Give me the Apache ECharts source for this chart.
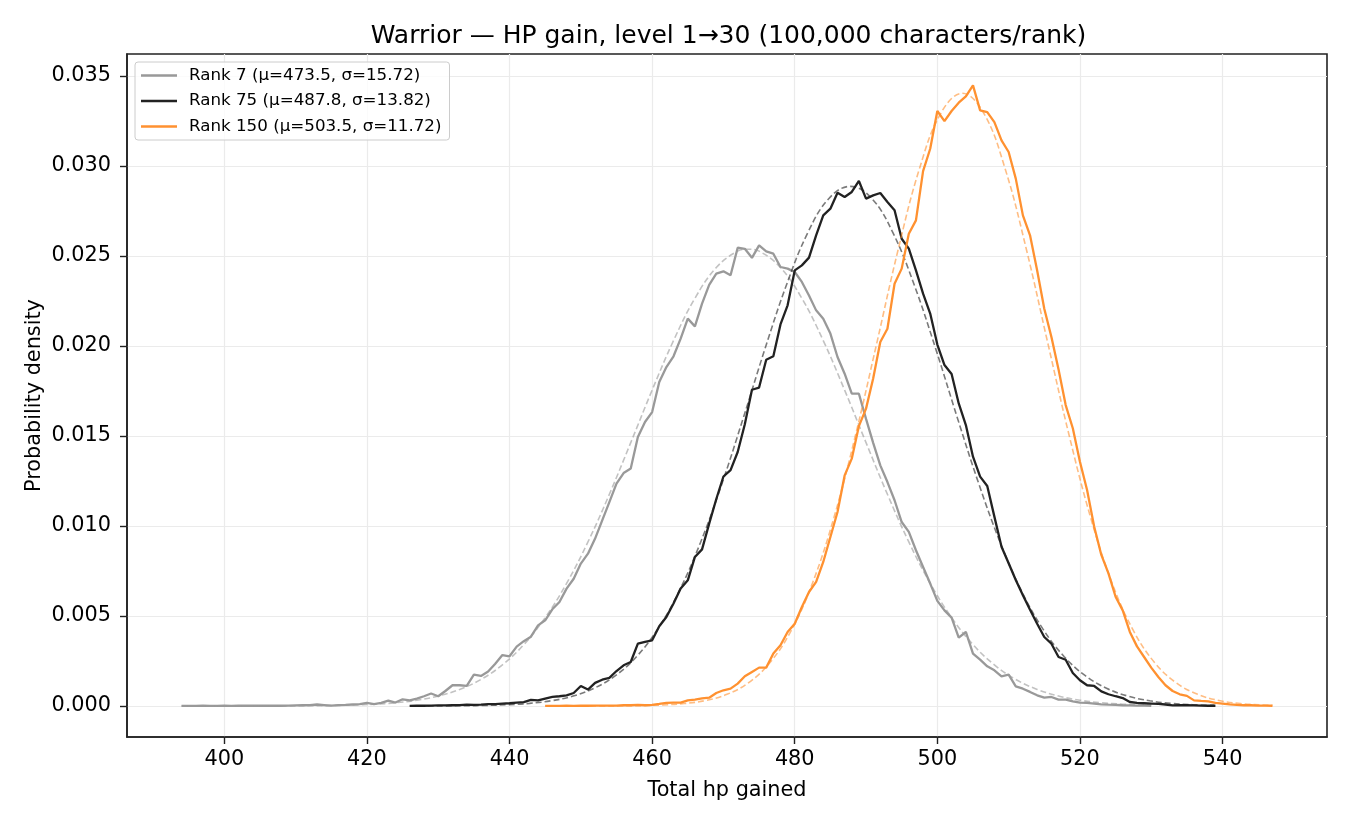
<!DOCTYPE html>
<html>
<head>
<meta charset="utf-8">
<script src="https://cdn.jsdelivr.net/npm/echarts@6/dist/echarts.min.js"></script>
<style>
  html, body { margin: 0; padding: 0; background: #fff; }
  #chart { width: 1350px; height: 825px; }
</style>
</head>
<body>
<div id="chart"></div>
<script>
// Densités empiriques, un point par valeur entière de PV
var rank7Start = 394;
var rank7Density = [
	0, 0, 0, 0.00001, 0, 0, 0.00001, 0, 0.00001, 0.00001,
	0.00002, 0.00001, 0.00001, 0.00002, 0.00001, 0.00002, 0.00003, 0.00004, 0.00005, 0.00008,
	0.00005, 0.00002, 0.00005, 0.00006, 0.00008, 0.0001, 0.00017, 0.0001, 0.00017, 0.0003,
	0.00019, 0.00037, 0.00031, 0.00041, 0.00054, 0.00069, 0.00054, 0.00083, 0.00115, 0.00115,
	0.00111, 0.00174, 0.00167, 0.00191, 0.00235, 0.00283, 0.00276, 0.0033, 0.0036, 0.00385,
	0.00448, 0.00476, 0.00537, 0.00578, 0.00652, 0.00707, 0.00791, 0.00846, 0.0093, 0.01031,
	0.01133, 0.01235, 0.01294, 0.01319, 0.01494, 0.01578, 0.01633, 0.018, 0.01883, 0.01943,
	0.02041, 0.02152, 0.02109, 0.02235, 0.0234, 0.02402, 0.02415, 0.02393, 0.02546, 0.0254,
	0.0249, 0.02559, 0.02526, 0.02513, 0.02439, 0.0243, 0.02411, 0.02356, 0.02281, 0.02198,
	0.02152, 0.02069, 0.01939, 0.01846, 0.01735, 0.01735, 0.01595, 0.01462, 0.01337, 0.01244,
	0.01143, 0.01022, 0.00967, 0.00865, 0.00772, 0.0068, 0.00584, 0.00531, 0.00491, 0.0038,
	0.00411, 0.00291, 0.00257, 0.0022, 0.00198, 0.00165, 0.00174, 0.00109, 0.00096, 0.00078,
	0.00059, 0.00046, 0.0005, 0.00035, 0.00035, 0.00026, 0.00019, 0.00017, 0.00013, 0.00009,
	0.00007, 0.00006, 0.00004, 0.00003, 0.00002, 0.00002, 0.00001
];

var rank75Start = 426;
var rank75Density = [
	0, 0.00001, 0.00001, 0.00002, 0.00003, 0.00003, 0.00004, 0.00005, 0.00007, 0.00006,
	0.00007, 0.0001, 0.0001, 0.00013, 0.00015, 0.00018, 0.00021, 0.00034, 0.00031, 0.00041,
	0.0005, 0.00054, 0.00059, 0.00072, 0.00111, 0.00091, 0.00128, 0.00146, 0.00156, 0.00194,
	0.00226, 0.00244, 0.00346, 0.00356, 0.00365, 0.00443, 0.00494, 0.00569, 0.00652, 0.00698,
	0.00828, 0.0087, 0.01013, 0.0115, 0.01275, 0.0131, 0.01411, 0.01565, 0.01757, 0.01769,
	0.01924, 0.01943, 0.0212, 0.02226, 0.0242, 0.02448, 0.02491, 0.02615, 0.02726, 0.02763,
	0.02852, 0.02828, 0.02856, 0.02917, 0.02819, 0.02837, 0.0285, 0.028, 0.02754, 0.02596,
	0.02541, 0.0242, 0.02291, 0.0218, 0.02008, 0.01894, 0.01844, 0.01681, 0.01561, 0.01385,
	0.01274, 0.01222, 0.01052, 0.00885, 0.00793, 0.007, 0.00615, 0.00535, 0.00457, 0.00383,
	0.00346, 0.00272, 0.00257, 0.00183, 0.00143, 0.00115, 0.00111, 0.00081, 0.00065, 0.00054,
	0.00044, 0.00022, 0.00017, 0.00015, 0.00013, 0.00011, 0.00008, 0.00003, 0.00005, 0.00004,
	0.00003, 0.00002, 0.00001, 0.00001
];

var rank150Start = 445;
var rank150Density = [
	0, 0, 0, 0.00001, 0, 0.00001, 0.00001, 0.00002, 0.00002, 0.00002,
	0.00002, 0.00004, 0.00004, 0.00006, 0.00004, 0.00006, 0.00011, 0.00017, 0.00019, 0.00019,
	0.00031, 0.00035, 0.00042, 0.00046, 0.00072, 0.00087, 0.00096, 0.00124, 0.00165, 0.00189,
	0.00213, 0.00213, 0.00291, 0.00337, 0.00411, 0.00457, 0.0055, 0.00633, 0.00689, 0.008,
	0.00939, 0.01078, 0.01281, 0.01374, 0.01555, 0.01652, 0.01819, 0.02022, 0.02096, 0.02346,
	0.0243, 0.02624, 0.02698, 0.02972, 0.03096, 0.03306, 0.0325, 0.03306, 0.03352, 0.03387,
	0.03448, 0.03309, 0.033, 0.03244, 0.03143, 0.03078, 0.0293, 0.02726, 0.02615, 0.0242,
	0.02207, 0.0205, 0.0187, 0.01672, 0.01543, 0.01357, 0.012, 0.00996, 0.00839, 0.00737,
	0.00607, 0.00531, 0.00411, 0.00331, 0.00272, 0.00213, 0.00161, 0.00115, 0.00083, 0.00065,
	0.00056, 0.00031, 0.00028, 0.00026, 0.00017, 0.00013, 0.00009, 0.00006, 0.00004, 0.00004,
	0.00002, 0.00002, 0.00001
];

// Courbes normales ajustées (pointillés)
var fitX7 = [394, 397, 400, 403, 406, 409, 412, 415, 418, 421, 424, 427, 430, 433, 436, 439, 442, 445, 448, 451,
	454, 457, 460, 463, 466, 469, 472, 473.5, 475, 478, 481, 484, 487, 490, 493, 496, 499, 502, 505, 508,
	511, 514, 517, 520, 523, 526, 529, 530];
var fitY7 = [0, 0, 0, 0.000001, 0.0000025, 0.0000056, 0.000012, 0.000025, 0.00005, 0.000096, 0.000178, 0.00032,
	0.000552, 0.000919, 0.001475, 0.002282, 0.003408, 0.004909, 0.006807, 0.009114, 0.01176, 0.01463, 0.01755,
	0.0203, 0.02265, 0.02436, 0.02527, 0.02538, 0.02527, 0.02436, 0.02265, 0.0203, 0.01755, 0.01463, 0.01176,
	0.009114, 0.006807, 0.004909, 0.003408, 0.002282, 0.001475, 0.000919, 0.000552, 0.00032, 0.000178,
	0.000096, 0.00005, 0.00004];

var fitX75 = [426, 427.8, 430.8, 433.8, 436.8, 439.8, 442.8, 445.8, 448.8, 451.8, 454.8, 457.8, 460.8, 463.8,
	466.8, 469.8, 472.8, 475.8, 478.8, 481.8, 484.8, 487.8, 490.8, 493.8, 496.8, 499.8, 502.8, 505.8, 508.8,
	511.8, 514.8, 517.8, 520.8, 523.8, 526.8, 529.8, 532.8, 535.8, 538.8];
var fitY75 = [0.0000013, 0.0000023, 0.0000058, 0.0000139, 0.0000319, 0.0000694, 0.000144, 0.000285, 0.000539,
	0.000971, 0.001669, 0.002737, 0.00428, 0.00639, 0.0091, 0.01236, 0.01602, 0.01981, 0.02335, 0.02627, 0.0282,
	0.02887, 0.0282, 0.02627, 0.02335, 0.01981, 0.01602, 0.01236, 0.0091, 0.00639, 0.00428, 0.002737, 0.001669,
	0.000971, 0.000539, 0.000285, 0.000144, 0.0000694, 0.0000319];

var fitX150 = [445, 446.5, 449.5, 452.5, 455.5, 458.5, 461.5, 464.5, 467.5, 470.5, 473.5, 476.5, 479.5, 482.5,
	485.5, 488.5, 491.5, 494.5, 497.5, 500.5, 503.5, 506.5, 509.5, 512.5, 515.5, 518.5, 521.5, 524.5, 527.5,
	530.5, 533.5, 536.5, 539.5, 542.5, 545.5, 547];
var fitY150 = [0.0000002, 0.0000003, 0.0000008, 0.0000026, 0.0000078, 0.0000214, 0.0000554, 0.000134, 0.000304,
	0.000646, 0.001285, 0.002396, 0.004182, 0.006836, 0.01047, 0.01501, 0.02015, 0.02535, 0.02986, 0.03294,
	0.03404, 0.03294, 0.02986, 0.02535, 0.02015, 0.01501, 0.01047, 0.006836, 0.004182, 0.002396, 0.001285,
	0.000646, 0.000304, 0.000134, 0.0000554, 0.0000347];

var seriesNames = ['Rank 7 (μ=473.5, σ=15.72)', 'Rank 75 (μ=487.8, σ=13.82)', 'Rank 150 (μ=503.5, σ=11.72)'];
var seriesColors = ['#999999', '#222222', '#ff9130'];
var xTicks = [400, 420, 440, 460, 480, 500, 520, 540];
var yTicks = [0, 0.005, 0.01, 0.015, 0.02, 0.025, 0.03, 0.035];

function pairsFromStart(start, values) {
	var out = [];
	for (var i = 0; i < values.length; i++) {
		out.push([start + i, values[i]]);
	}
	return out;
}

function pairs(xs, ys) {
	var out = [];
	for (var i = 0; i < xs.length; i++) {
		out.push([xs[i], ys[i]]);
	}
	return out;
}

var empirical = [
	pairsFromStart(rank7Start, rank7Density),
	pairsFromStart(rank75Start, rank75Density),
	pairsFromStart(rank150Start, rank150Density)
];
var fits = [pairs(fitX7, fitY7), pairs(fitX75, fitY75), pairs(fitX150, fitY150)];

var font = 'DejaVu Sans';
var series = [];
for (var k = 0; k < 3; k++) {
	series.push({
		name: seriesNames[k],
		type: 'line',
		data: empirical[k],
		showSymbol: false,
		symbol: 'none',
		color: seriesColors[k],
		lineStyle: { width: 2.3, color: seriesColors[k] },
		z: 2 + k * 2
	});
	series.push({
		name: 'fit' + k,
		type: 'line',
		data: fits[k],
		showSymbol: false,
		symbol: 'none',
		smooth: 0.4,
		lineStyle: { width: 1.6, type: [6, 3], color: seriesColors[k], opacity: 0.6 },
		z: 3 + k * 2
	});
}

var chart = echarts.init(document.getElementById('chart'));
chart.setOption({
	animation: false,
	backgroundColor: '#ffffff',
	title: {
		text: 'Warrior — HP gain, level 1→30 (100,000 characters/rank)',
		left: 723.5,
		textAlign: 'center',
		top: 19,
		textStyle: { fontFamily: font, fontSize: 25, fontWeight: 'normal', color: '#000' }
	},
	legend: {
		data: seriesNames,
		orient: 'vertical',
		left: 135,
		top: 62,
		icon: 'rect',
		itemWidth: 36,
		itemHeight: 2.5,
		itemGap: 8.5,
		padding: [5, 8, 5, 6],
		backgroundColor: 'rgba(255,255,255,0.8)',
		borderColor: '#cccccc',
		borderWidth: 1,
		borderRadius: 3,
		textStyle: { fontFamily: font, fontSize: 16.7, color: '#000', padding: [0, 0, 0, 7] }
	},
	grid: {
		left: 127,
		top: 54,
		width: 1200,
		height: 683,
		show: true,
		borderColor: '#222',
		borderWidth: 1.6,
		backgroundColor: 'transparent'
	},
	xAxis: {
		type: 'value',
		min: 386.35,
		max: 554.65,
		name: 'Total hp gained',
		nameLocation: 'middle',
		nameGap: 43,
		nameTextStyle: { fontFamily: font, fontSize: 20.8, color: '#000' },
		axisLine: { onZero: false, lineStyle: { color: '#222', width: 1.6 } },
		axisTick: { length: 7, lineStyle: { color: '#222', width: 1.4 }, customValues: xTicks },
		axisLabel: { fontFamily: font, fontSize: 20.8, color: '#000', margin: 12, customValues: xTicks },
		splitLine: { show: true, lineStyle: { color: '#ebebeb', width: 1.2 } }
	},
	yAxis: {
		type: 'value',
		min: -0.001725,
		max: 0.036225,
		name: 'Probability density',
		nameLocation: 'middle',
		nameGap: 82,
		nameMoveOverlap: false,
		nameTextStyle: { fontFamily: font, fontSize: 20.8, color: '#000' },
		axisLine: { show: true, onZero: false, lineStyle: { color: '#222', width: 1.6 } },
		axisTick: { show: true, length: 7, lineStyle: { color: '#222', width: 1.4 }, customValues: yTicks },
		axisLabel: {
			fontFamily: font, fontSize: 20.8, color: '#000', margin: 16, customValues: yTicks,
			formatter: function (v) { return v.toFixed(3); }
		},
		splitLine: { show: true, lineStyle: { color: '#ebebeb', width: 1.2 } }
	},
	series: series
});
</script>
</body>
</html>
